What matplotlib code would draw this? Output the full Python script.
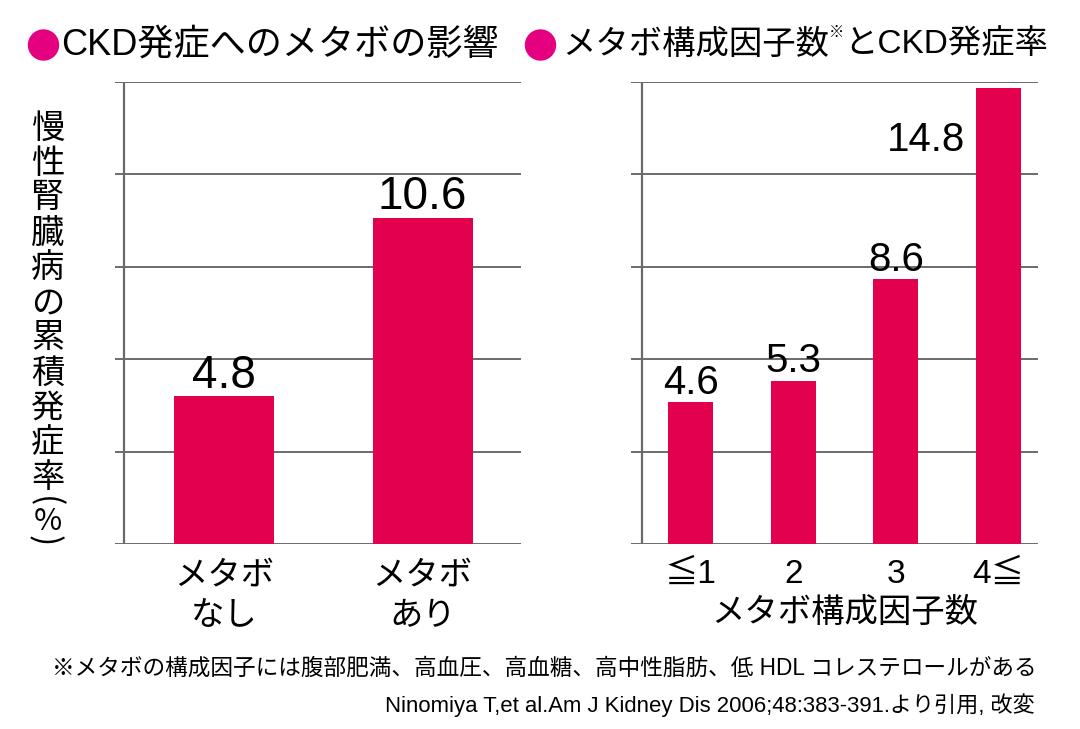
import matplotlib
matplotlib.use('Agg')
import matplotlib.pyplot as plt
from matplotlib.patches import Ellipse

plt.rcParams['font.family'] = ['Liberation Sans', 'Noto Sans CJK JP']

# ---------------- data ----------------
left_categories = ['メタボ\nなし', 'メタボ\nあり']
left_values = [4.8, 10.6]
right_categories = ['≦1', '2', '3', '4≦']
right_values = [4.6, 5.3, 8.6, 14.8]
y_ticks = [0, 3, 6, 9, 12, 15]

left_title = 'CKD発症へのメタボの影響'
right_title_parts = ['メタボ構成因子数', '※', 'とCKD発症率']
y_label_chars = list('慢性腎臓病の累積発症率')
y_label_tail = ['(', '%', ')']
right_xlabel = 'メタボ構成因子数'
footnote = '※メタボの構成因子には腹部肥満、高血圧、高血糖、高中性脂肪、低 HDL コレステロールがある'
source = 'Ninomiya T,et al.Am J Kidney Dis 2006;48:383-391.より引用, 改変'

# ---------------- style ----------------
W, H = 1080, 729
BAR = '#E2004F'
BULLET = '#E4007F'
GRID = '#444444'
SPINE = '#6a6a6a'

fig = plt.figure(figsize=(W / 100, H / 100), dpi=100)
fig.patch.set_facecolor('white')


def fx(x):
    return x / W


def fy(y):
    return 1 - y / H


def make_axes(x0, x1, categories, values, centers_px, width_px, spine_px,
              label_size, tick_size, tick_pad, linespacing):
    y_top, y_bot = 82, 544
    ax = fig.add_axes([fx(x0), fy(y_bot), (x1 - x0) / W, (y_bot - y_top) / H])
    n = len(categories)
    step = (centers_px[-1] - centers_px[0]) / (n - 1)
    xmin = -(centers_px[0] - x0) / step
    xmax = (n - 1) + (x1 - centers_px[-1]) / step
    ax.set_xlim(xmin, xmax)
    ax.set_ylim(y_ticks[0], y_ticks[-1])
    pos = list(range(n))
    bw = width_px / step
    ax.bar(pos, values, width=bw, color=BAR, zorder=3)
    ax.set_axisbelow(True)
    ax.set_yticks(y_ticks)
    ax.yaxis.grid(True, color=GRID, lw=1.1, zorder=0)
    ax.tick_params(axis='y', length=0, labelleft=False)
    for s in ax.spines.values():
        s.set_visible(False)
    ax.axvline((spine_px - centers_px[0]) / step, color=SPINE, lw=1.6, zorder=1)
    ax.set_xticks(pos)
    ax.set_xticklabels(categories, fontsize=tick_size, linespacing=linespacing)
    ax.tick_params(axis='x', length=0, pad=tick_pad)
    for p, v in zip(pos, values):
        if v > 13:
            ax.annotate(f'{v}', xy=(p - bw / 2, v), xytext=(-8, -45),
                        textcoords='offset points', ha='right', va='baseline',
                        fontsize=label_size, family='Liberation Sans')
        else:
            ax.annotate(f'{v}', xy=(p, v), xytext=(0, 6),
                        textcoords='offset points', ha='center', va='baseline',
                        fontsize=label_size, family='Liberation Sans')
    return ax


ax1 = make_axes(115, 521, left_categories, left_values, [224, 422.5], 100, 124,
                33, 24, 12, 1.38)
ax2 = make_axes(631, 1038, right_categories, right_values,
                [690.5, 794.5, 895.5, 998.5], 45, 642, 29, 24, 11, 1.2)

# titles with bullets
for cx in (43.5, 540.5):
    fig.patches.append(Ellipse((fx(cx), fy(45)), 30 / W, 30 / H,
                               transform=fig.transFigure, color=BULLET))
fig.text(fx(61), fy(45), left_title, fontsize=26, va='center', ha='left')

renderer = fig.canvas.get_renderer()
t = fig.text(fx(562), fy(45), right_title_parts[0], fontsize=24, va='center', ha='left')
bb = t.get_window_extent(renderer)
t2 = fig.text(bb.x1 / W, fy(33), right_title_parts[1], fontsize=11, va='center', ha='left')
bb2 = t2.get_window_extent(renderer)
fig.text(bb2.x1 / W, fy(45), right_title_parts[2], fontsize=24, va='center', ha='left')

# vertical y label (upright characters, stacked)
y_pos = [128 + 35 * i for i in range(len(y_label_chars))]
for ch, yp in zip(y_label_chars, y_pos):
    fig.text(fx(48), fy(yp), ch, fontsize=24, ha='center', va='center',
             family=['Noto Sans CJK JP', 'DejaVu Sans'])
tail_pos = [502, 521, 541]
tail_x = [44, 48, 44]
tail_rot = [-90, 0, -90]
tail_size = [24, 22, 24]
for ch, xp, yp, rot, fs in zip(y_label_tail, tail_x, tail_pos, tail_rot, tail_size):
    fig.text(fx(xp), fy(yp), ch, fontsize=fs, ha='center', va='center',
             rotation=rot, family=['Noto Sans CJK JP', 'DejaVu Sans'])

# right x label
fig.text(fx(845), fy(613), right_xlabel, fontsize=24, ha='center', va='center')

# footnotes
fig.text(fx(52), fy(668), footnote, fontsize=16.3, ha='left', va='center')
fig.text(fx(1035), fy(705), source, fontsize=15.9, ha='right', va='center')

fig.savefig('out.png', dpi=100, facecolor='white')
